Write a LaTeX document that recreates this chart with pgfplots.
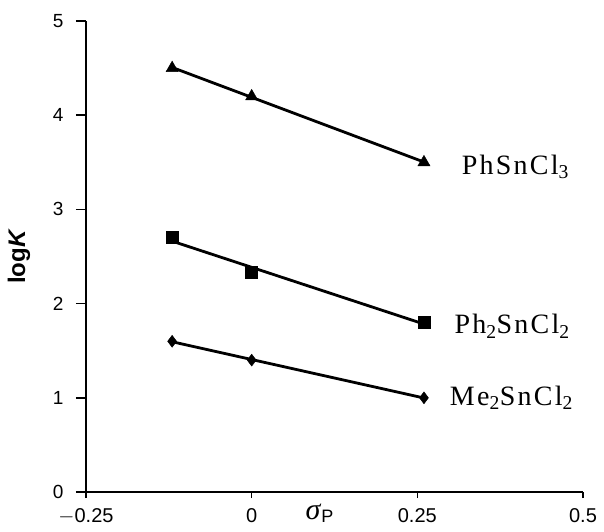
\documentclass[border=0pt]{standalone}
\usepackage{fontspec}
\setmainfont{Liberation Serif}
\newfontfamily\arialfont{Liberation Sans}
\newfontfamily\labelfont[LetterSpace=8]{Liberation Serif}
\usepackage{pgfplots}
\pgfplotsset{compat=1.18}

\begin{document}
\begin{tikzpicture}
\begin{axis}[
  at={(0,0)}, anchor=south west,
  scale only axis,
  width=497pt, height=471pt,
  xmin=-0.25, xmax=0.5,
  ymin=0, ymax=5,
  xtick={-0.25,0,0.25,0.5},
  xticklabels={$-$0.25,0,0.25,0.5},
  ytick={0,1,2,3,4,5},
  axis x line=bottom, axis y line=left,
  axis line style={line width=1.7pt, -},
  tick style={line width=1.5pt, black},
  tick align=outside,
  major tick length=10pt,
  x tick style={/pgfplots/major tick length=6pt},
  tick label style={font=\arialfont\fontsize{19}{20}\selectfont},
  /pgf/number format/assume math mode=true,
  xticklabel style={yshift=-3pt, font=\arialfont\fontsize{20}{21}\selectfont},
  yticklabel style={xshift=-9pt},
  ylabel={\textbf{\arialfont log}\textbf{\textit{K}}},
  ylabel style={font=\arialfont\fontsize{24}{25}\selectfont, at={(axis description cs:-0.105,0.5)}, anchor=south},
  clip=false,
]
% trend lines
\addplot[black, line width=2.8pt] coordinates {(-0.12,4.507)(0.26,3.503)};
\addplot[black, line width=2.8pt] coordinates {(-0.12,2.663)(0.26,1.783)};
\addplot[black, line width=2.8pt] coordinates {(-0.12,1.595)(0.26,0.998)};
% data points
\addplot[only marks, mark=triangle*, mark size=7pt, black] coordinates {(-0.12,4.5)(0,4.2)(0.26,3.5)};
\addplot[only marks, mark=square*, mark size=6pt, black] coordinates {(-0.12,2.7)(0,2.33)(0.26,1.8)};
\addplot[only marks, mark=diamond*, mark size=6pt, black] coordinates {(-0.12,1.6)(0,1.4)(0.26,1.0)};
% series names
\node[font=\labelfont\fontsize{28}{29}\selectfont] at (axis cs:0.398,3.45) {PhSnCl\textsubscript{3}};
\node[font=\labelfont\fontsize{28}{29}\selectfont] at (axis cs:0.393,1.76) {Ph\textsubscript{2}SnCl\textsubscript{2}};
\node[font=\labelfont\fontsize{28}{29}\selectfont] at (axis cs:0.392,1.0) {Me\textsubscript{2}SnCl\textsubscript{2}};
% x label set among the tick labels
\node[font=\fontsize{30}{31}\selectfont, anchor=north, inner sep=0pt] at (axis description cs:0.47,0) [yshift=-12pt] {\textit{σ}\raisebox{-3pt}{\arialfont\fontsize{18}{19}\selectfont P}};
\end{axis}
\pgfresetboundingbox
\path[use as bounding box] (-86pt,-39pt) rectangle (518pt,492pt);
\end{tikzpicture}
\end{document}
